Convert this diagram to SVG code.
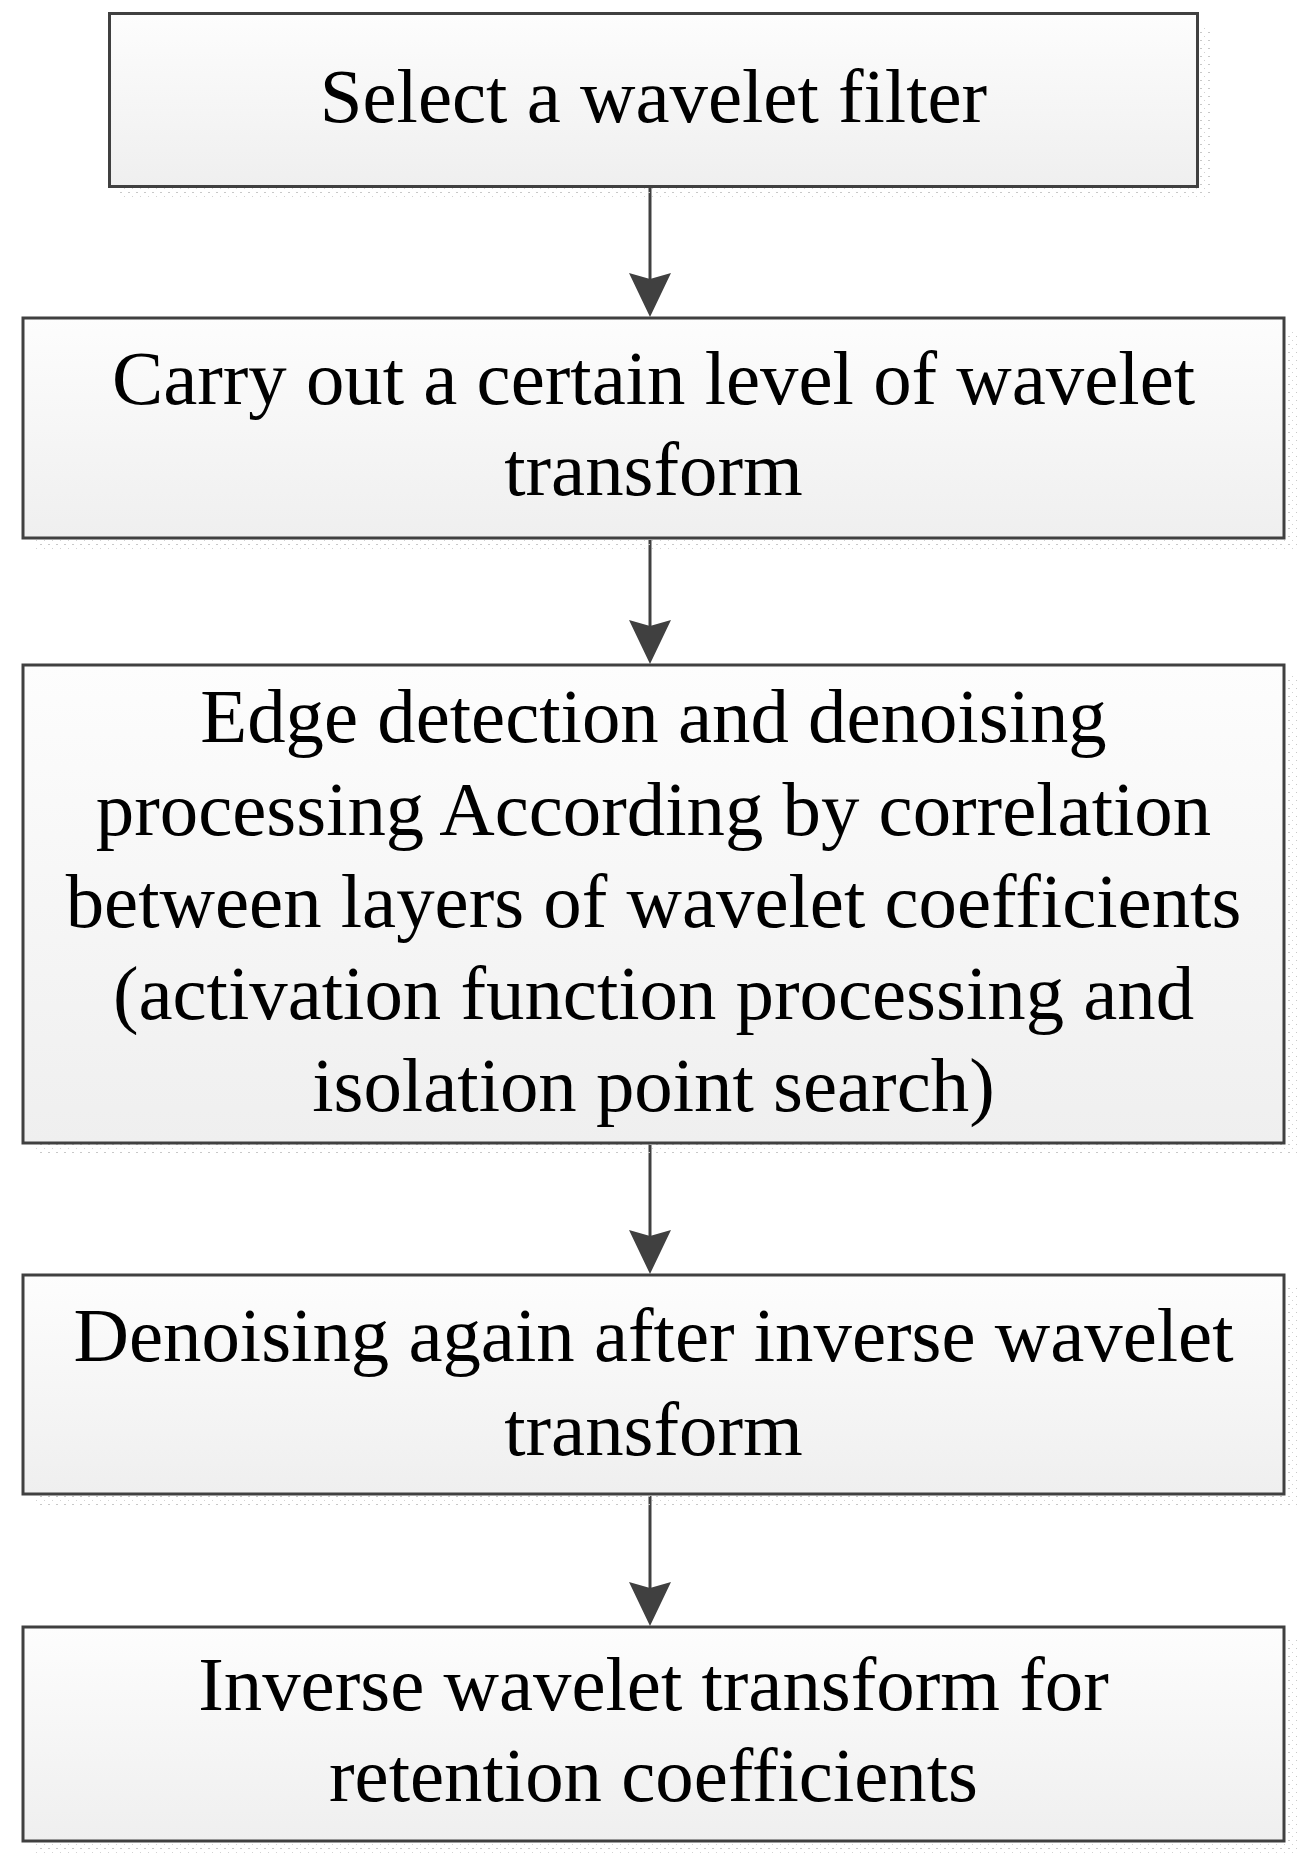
<svg xmlns="http://www.w3.org/2000/svg" width="1299" height="1862" viewBox="0 0 1299 1862">
<style>
.box{fill:url(#grad);stroke:#404040;stroke-width:3}
.shadow{fill:url(#dots);stroke:none}
.lbl{font-family:"Liberation Serif","Times New Roman",serif;font-size:76.8px;fill:#000;text-anchor:middle;font-variant-ligatures:none}
.conn{stroke:#404040;stroke-width:3;fill:none;marker-end:url(#arrow)}
</style>
<defs>
<linearGradient id="grad" x1="0" y1="0" x2="0" y2="1">
<stop offset="0" stop-color="#fdfdfd"/>
<stop offset="1" stop-color="#efefef"/>
</linearGradient>
<pattern id="dots" width="8" height="8" patternUnits="userSpaceOnUse">
<rect x="0" y="0" width="2" height="1" fill="#c8c8c8"/>
<rect x="4" y="4" width="1" height="1" fill="#d2d2d2"/>
</pattern>
<marker id="arrow" markerUnits="userSpaceOnUse" viewBox="0 -22 46 44" markerWidth="46" markerHeight="44" refX="34" refY="0" orient="auto">
<path d="M0,-21 L44,0 L0,21 L6,0 Z" fill="#404040"/>
</marker>
</defs>
<rect width="1299" height="1862" fill="#fff"/>
<g id="connectors">
<line class="conn" x1="650" y1="188" x2="650" y2="307"/>
<line class="conn" x1="650" y1="540" x2="650" y2="654"/>
<line class="conn" x1="650" y1="1145" x2="650" y2="1264"/>
<line class="conn" x1="650" y1="1496" x2="650" y2="1616"/>
</g>
<g id="node1">
<rect class="shadow" x="120" y="25" width="1090" height="173"/>
<rect class="box" x="109.5" y="13.5" width="1088" height="173"/>
<text class="lbl" x="653.5" y="122">Select a wavelet filter</text>
</g>
<g id="node2">
<rect class="shadow" x="34" y="329" width="1263" height="221"/>
<rect class="box" x="23" y="318" width="1261" height="220"/>
<text class="lbl" x="653.5" y="404">Carry out a certain level of wavelet</text>
<text class="lbl" x="653.5" y="495">transform</text>
</g>
<g id="node3">
<rect class="shadow" x="34" y="676" width="1263" height="479"/>
<rect class="box" x="23" y="665" width="1261" height="478"/>
<text class="lbl" x="653.5" y="742">Edge detection and denoising</text>
<text class="lbl" x="653.5" y="835">processing According by correlation</text>
<text class="lbl" x="653.5" y="927">between layers of wavelet coefficients</text>
<text class="lbl" x="653.5" y="1019">(activation function processing and</text>
<text class="lbl" x="653.5" y="1111">isolation point search)</text>
</g>
<g id="node4">
<rect class="shadow" x="34" y="1286" width="1263" height="220"/>
<rect class="box" x="23" y="1275" width="1261" height="219"/>
<text class="lbl" x="653.5" y="1361">Denoising again after inverse wavelet</text>
<text class="lbl" x="653.5" y="1455">transform</text>
</g>
<g id="node5">
<rect class="shadow" x="34" y="1638" width="1263" height="215"/>
<rect class="box" x="23" y="1627" width="1261" height="214"/>
<text class="lbl" x="653.5" y="1710">Inverse wavelet transform for</text>
<text class="lbl" x="653.5" y="1801">retention coefficients</text>
</g>
</svg>
